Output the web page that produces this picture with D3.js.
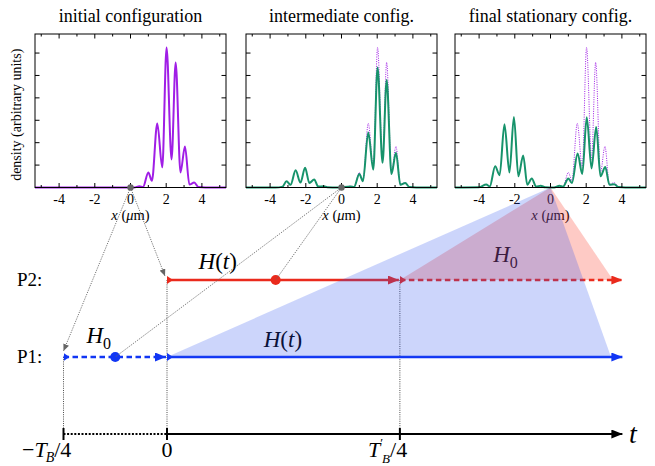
<!DOCTYPE html>
<html>
<head>
<meta charset="utf-8">
<script src="https://cdn.jsdelivr.net/npm/d3@7"></script>
<style>
  body { margin: 0; background: #fff; }
  svg { display: block; }
  text { font-family: "Liberation Serif", "DejaVu Serif", serif; fill: #000; }
</style>
</head>
<body>
<script>
// panel titles and axis ticks
const panelTitles = ["initial configuration", "intermediate config.", "final stationary config."];
const xMajor = [-4, -2, 0, 2, 4];
const xMinor = [-5, -3, -1, 1, 3, 5];
const yTicks = [1, 2, 3, 4, 5, 6];

// density curves (x in um, y in arbitrary units)
const initialX = [-5.35, -1, 0.2, 0.5, 0.7, 1.0, 1.2, 1.5, 1.78, 2.02, 2.3, 2.53, 2.8, 3.05, 3.3, 3.57, 3.8, 4.2, 5.35];
const initialY = [0, 0, 0, 0.06, 0.02, 0.67, 0.3, 2.86, 0.9, 6.25, 1.25, 5.58, 0.67, 1.83, 0.13, 0.22, 0.02, 0, 0];

const interX = [-5.35, -3.7, -3.3, -3.08, -2.85, -2.57, -2.3, -2.04, -1.8, -1.53, -1.3, -1.0, -0.8, -0.2, 0.5, 0.7, 1.0, 1.2, 1.5, 1.78, 2.02, 2.3, 2.53, 2.8, 3.05, 3.3, 3.57, 3.8, 4.2, 5.35];
const interY = [0, 0, 0.04, 0.28, 0.12, 0.77, 0.22, 0.88, 0.2, 0.36, 0.04, 0.06, 0.01, 0, 0.05, 0.02, 0.6, 0.28, 2.45, 0.8, 5.36, 1.1, 4.8, 0.6, 1.55, 0.12, 0.2, 0.02, 0, 0];

const finalX = [-5.35, -4.0, -3.6, -3.4, -3.1, -2.85, -2.58, -2.3, -2.05, -1.8, -1.53, -1.3, -1.05, -0.8, -0.55, -0.3, 0.2, 0.5, 0.7, 1.0, 1.2, 1.52, 1.78, 2.03, 2.3, 2.56, 2.8, 3.07, 3.3, 3.57, 3.8, 4.2, 5.35];
const finalY = [0, 0.01, 0.13, 0.05, 0.95, 0.55, 2.82, 0.67, 3.15, 0.5, 1.43, 0.12, 0.4, 0.04, 0.08, 0.01, 0, 0.08, 0.03, 0.4, 0.2, 1.52, 0.6, 3.13, 0.85, 2.7, 0.5, 0.91, 0.12, 0.15, 0.02, 0, 0];

// time line: times in units of T_B/4
const stageTimes = [-1, 0, 2.25];
const tEnd = 4.4;
const p1Segments = [{from: -1, to: 0, dashed: true}, {from: 0, to: tEnd, dashed: false}];
const p2Segments = [{from: 0, to: 2.25, dashed: false}, {from: 2.25, to: tEnd, dashed: true}];
const blueDotT = -0.5;
const redDotT = 1.05;
const shadeEndT = 4.29;

const purple = "#a01ee6", green = "#17936b", red = "#ea2a1c", blue = "#1136f4";

const svg = d3.select("body").append("svg").attr("width", 655).attr("height", 466);

// markers
const defs = svg.append("defs");
function arrowMarker(id, color, w, h) {
  defs.append("marker").attr("id", id)
    .attr("markerUnits", "userSpaceOnUse")
    .attr("viewBox", `0 0 ${w} ${h}`)
    .attr("markerWidth", w).attr("markerHeight", h)
    .attr("refX", w).attr("refY", h / 2)
    .attr("orient", "auto")
    .append("path").attr("d", `M0,0L${w},${h / 2}L0,${h}Z`).attr("fill", color);
}
function startMarker(id, color) {
  defs.append("marker").attr("id", id)
    .attr("markerUnits", "userSpaceOnUse")
    .attr("viewBox", "0 0 6 8")
    .attr("markerWidth", 6).attr("markerHeight", 8)
    .attr("refX", 0).attr("refY", 4)
    .attr("orient", "auto")
    .append("path").attr("d", "M0,0L6,4L0,8Z").attr("fill", color);
}
arrowMarker("arrBlue", blue, 11, 9);
arrowMarker("arrRed", red, 11, 9);
arrowMarker("arrBlack", "#000", 11, 9);
arrowMarker("arrGrey", "#666", 7, 6);
startMarker("stBlue", blue);
startMarker("stRed", red);

// density panels
const panelLefts = [35, 246, 455];
const pw = 191, pTop = 34, pBottom = 187.5;
const ys = d3.scaleLinear().domain([0, 6.85]).range([pBottom, pTop]);
const panelScales = [];

const curves = [
  [{x: initialX, y: initialY, c: purple, dot: false}],
  [{x: initialX, y: initialY, c: purple, dot: true}, {x: interX, y: interY, c: green, dot: false}],
  [{x: initialX, y: initialY, c: purple, dot: true}, {x: finalX, y: finalY, c: green, dot: false}]
];

panelLefts.forEach(function(left, i) {
  const xs = d3.scaleLinear().domain([-5.35, 5.35]).range([left, left + pw]);
  panelScales.push(xs);
  const g = svg.append("g");

  g.append("text").attr("x", xs(0)).attr("y", 22)
    .attr("text-anchor", "middle").style("font-size", "18px")
    .text(panelTitles[i]);

  // curves
  curves[i].forEach(function(cv) {
    const line = d3.line()
      .x(d => xs(d[0])).y(d => ys(d[1]))
      .curve(d3.curveMonotoneX);
    g.append("path").attr("d", line(d3.zip(cv.x, cv.y)))
      .attr("fill", "none").attr("stroke", cv.c)
      .attr("stroke-width", cv.dot ? 1 : 2)
      .attr("stroke-dasharray", cv.dot ? "1,1.3" : null);
  });

  // frame
  g.append("rect").attr("x", left).attr("y", pTop).attr("width", pw).attr("height", pBottom - pTop)
    .attr("fill", "none").attr("stroke", "#000").attr("stroke-width", 1);

  // ticks
  xMajor.concat(xMinor).forEach(function(v) {
    const len = xMajor.includes(v) ? 4.5 : 2.5;
    g.append("line").attr("x1", xs(v)).attr("x2", xs(v)).attr("y1", pBottom).attr("y2", pBottom - len).attr("stroke", "#000");
    g.append("line").attr("x1", xs(v)).attr("x2", xs(v)).attr("y1", pTop).attr("y2", pTop + len).attr("stroke", "#000");
  });
  yTicks.forEach(function(v) {
    g.append("line").attr("x1", left).attr("x2", left + 4.5).attr("y1", ys(v)).attr("y2", ys(v)).attr("stroke", "#000");
    g.append("line").attr("x1", left + pw).attr("x2", left + pw - 4.5).attr("y1", ys(v)).attr("y2", ys(v)).attr("stroke", "#000");
  });
  xMajor.forEach(function(v) {
    g.append("text").attr("x", xs(v)).attr("y", pBottom + 16.5)
      .attr("text-anchor", "middle").style("font-size", "14px")
      .text(v < 0 ? "-" + Math.abs(v) : v);
  });
  const xl = g.append("text").attr("x", xs(0)).attr("y", pBottom + 32)
    .attr("text-anchor", "middle").style("font-size", "14.5px");
  xl.append("tspan").style("font-style", "italic").text("x");
  xl.append("tspan").text(" (");
  xl.append("tspan").style("font-style", "italic").text("μ");
  xl.append("tspan").text("m)");

  if (i === 0) {
    g.append("text").attr("transform", `translate(21,${(pTop + pBottom) / 2 + 4}) rotate(-90)`)
      .attr("text-anchor", "middle").style("font-size", "14px")
      .text("density (arbitrary units)");
  }
});

// time line scales
const tScale = d3.scaleLinear().domain([-1, 0]).range([63.5, 167]);
const laneY = d3.scalePoint().domain(["P2", "P1", "axis"]).range([280, 434]);

const origin = panelLefts.map((l, i) => [panelScales[i](0), ys(0)]);

// vertical dotted guides
[[stageTimes[0], "P1"], [stageTimes[1], "P2"], [stageTimes[2], "P2"]].forEach(function(d) {
  svg.append("line").attr("x1", tScale(d[0])).attr("x2", tScale(d[0]))
    .attr("y1", laneY(d[1])).attr("y2", laneY("axis"))
    .attr("stroke", "#222").attr("stroke-width", 0.8).attr("stroke-dasharray", "1,1.2");
});

// time axis
svg.append("line").attr("x1", tScale(-1)).attr("x2", tScale(0)).attr("y1", laneY("axis")).attr("y2", laneY("axis"))
  .attr("stroke", "#000").attr("stroke-width", 2).attr("stroke-dasharray", "2,1.6");
svg.append("line").attr("x1", tScale(0)).attr("x2", tScale(tEnd)).attr("y1", laneY("axis")).attr("y2", laneY("axis"))
  .attr("stroke", "#000").attr("stroke-width", 2).attr("marker-end", "url(#arrBlack)");
stageTimes.forEach(function(t) {
  svg.append("line").attr("x1", tScale(t)).attr("x2", tScale(t))
    .attr("y1", laneY("axis") - 6).attr("y2", laneY("axis") + 6)
    .attr("stroke", "#000").attr("stroke-width", 2);
});

// stage labels
const ly = laneY("axis") + 23, fs = 22;
let lab = svg.append("text").attr("x", 22).attr("y", ly).style("font-size", fs + "px");
lab.append("tspan").text("−");
lab.append("tspan").style("font-style", "italic").text("T");
lab.append("tspan").attr("dx", -1).attr("dy", 5).style("font-size", "14px").style("font-style", "italic").text("B");
lab.append("tspan").attr("dy", -5).text("/4");

svg.append("text").attr("x", tScale(stageTimes[1])).attr("y", ly).attr("text-anchor", "middle").style("font-size", fs + "px").text("0");

// T'_B / 4
lab = svg.append("text").attr("x", 368).attr("y", ly).style("font-size", fs + "px");
lab.append("tspan").style("font-style", "italic").text("T");
lab.append("tspan").attr("dy", -10).style("font-size", "13px").text("′");
lab.append("tspan").attr("dx", -1).attr("dy", 16).style("font-size", "13px").style("font-style", "italic").text("B");
lab.append("tspan").attr("dy", -6).text("/4");

svg.append("text").attr("x", 633).attr("y", laneY("axis") + 9).attr("text-anchor", "middle")
  .style("font-size", "28px").style("font-style", "italic").text("t");

// lane labels
["P2", "P1"].forEach(function(p) {
  svg.append("text").attr("x", 17).attr("y", laneY(p) + 6).style("font-size", "19px").text(p + ":");
});

// lanes
function drawSegs(segs, lane, color, arr, st) {
  segs.forEach(function(s) {
    svg.append("line")
      .attr("x1", tScale(s.from)).attr("x2", tScale(s.to) - (s.to === tEnd ? 0 : 1))
      .attr("y1", laneY(lane)).attr("y2", laneY(lane))
      .attr("stroke", color).attr("stroke-width", 2.4)
      .attr("stroke-dasharray", s.dashed ? "5.5,3.5" : null)
      .attr("marker-start", `url(#${st})`)
      .attr("marker-end", `url(#${arr})`);
  });
}
drawSegs(p1Segments, "P1", blue, "arrBlue", "stBlue");
drawSegs(p2Segments, "P2", red, "arrRed", "stRed");

svg.append("circle").attr("cx", tScale(blueDotT)).attr("cy", laneY("P1")).attr("r", 5).attr("fill", blue);
svg.append("circle").attr("cx", tScale(redDotT)).attr("cy", laneY("P2")).attr("r", 5).attr("fill", red);

// math labels on lanes
function hLabel(x, y, kind) {
  const el = svg.append("text").attr("x", x).attr("y", y).attr("text-anchor", "middle").style("font-size", "23px");
  el.append("tspan").style("font-style", "italic").text("H");
  if (kind === "t") {
    el.append("tspan").text("(");
    el.append("tspan").style("font-style", "italic").text("t");
    el.append("tspan").text(")");
  } else {
    el.append("tspan").attr("dy", 6).style("font-size", "16px").text("0");
  }
}
hLabel(tScale(0.49), laneY("P2") - 11, "t");
hLabel(tScale(-0.66), laneY("P1") - 14, "0");
hLabel(tScale(1.12), laneY("P1") - 10, "t");
hLabel(tScale(3.27), laneY("P2") - 18, "0");

// grey connectors from snapshots to the time line
function connector(a, b, arrow) {
  svg.append("line").attr("x1", a[0]).attr("y1", a[1]).attr("x2", b[0]).attr("y2", b[1])
    .attr("stroke", "#666").attr("stroke-width", 0.9).attr("stroke-dasharray", "1.2,1.2")
    .attr("marker-end", arrow ? "url(#arrGrey)" : null);
}
connector(origin[0], [tScale(-1), laneY("P1") - 6], true);
connector(origin[0], [tScale(0) - 2, laneY("P2") - 4], true);
connector(origin[1], [tScale(blueDotT), laneY("P1")], false);
connector(origin[1], [tScale(redDotT), laneY("P2")], false);
origin.slice(0, 2).forEach(function(o) {
  svg.append("circle").attr("cx", o[0]).attr("cy", o[1]).attr("r", 3.2).attr("fill", "#666");
});

// shaded fans from the final snapshot
const apex = origin[2];
svg.append("path")
  .attr("d", d3.line()([[tScale(2.25), laneY("P2")], apex, [tScale(shadeEndT + 0.02), laneY("P2")]]) + "Z")
  .attr("fill", "rgb(250,50,30)").attr("fill-opacity", 0.26);
svg.append("path")
  .attr("d", d3.line()([[tScale(0), laneY("P1")], apex, [tScale(shadeEndT), laneY("P1")]]) + "Z")
  .attr("fill", "rgb(40,80,240)").attr("fill-opacity", 0.24);
</script>
</body>
</html>
